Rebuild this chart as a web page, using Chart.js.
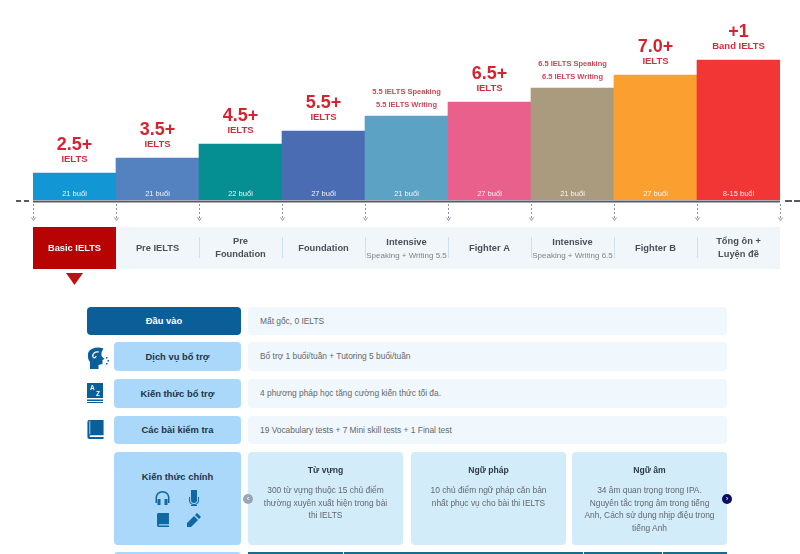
<!DOCTYPE html>
<html>
<head>
<meta charset="utf-8">
<script src="https://cdn.jsdelivr.net/npm/chart.js@4"></script>
<style>
html, body { margin: 0; padding: 0; background: #fff; width: 800px; height: 554px; overflow: hidden; }
body { font-family: "Liberation Sans", Arial, sans-serif; position: relative; }
#courseChart { position: absolute; left: 0; top: 0; }
.box { position: absolute; border-radius: 4px; box-sizing: border-box; }
.head { background: #a9d8fb; color: #1f3347; font-weight: bold; font-size: 9.4px; text-align: center; left: 114px; width: 127px; }
.dark { background: #0b5f98; color: #fff; left: 87px; width: 154px; }
.info { background: #f0f8fd; color: #62676e; font-size: 8.4px; left: 248px; width: 479px; padding-left: 12px; }
.card { background: #d3ecfa; color: #62686f; font-size: 8.4px; line-height: 12.7px; text-align: center; top: 452px; height: 93px; width: 155px; padding: 12px 2px 0; white-space: nowrap; }
.card b { display: block; color: #2e3a44; font-size: 8.6px; margin-bottom: 8px; line-height: 12px; }
.dot { position: absolute; width: 10px; height: 10px; border-radius: 50%; top: 494px; color: #fff; font-size: 8px; line-height: 9px; text-align: center; }
svg { position: absolute; fill: #0f67a3; }
</style>
</head>
<body>
<canvas id="courseChart" width="800" height="554"></canvas>

<div class="box head dark" style="top:307px;height:28px;line-height:28px">Đầu vào</div>
<div class="box info" style="top:307px;height:28px;line-height:28px">Mất gốc, 0 IELTS</div>
<div class="box head" style="top:342px;height:29px;line-height:29px">Dịch vụ bổ trợ</div>
<div class="box info" style="top:342px;height:29px;line-height:29px">Bổ trợ 1 buổi/tuần + Tutoring 5 buổi/tuần</div>
<div class="box head" style="top:379px;height:29px;line-height:29px">Kiến thức bổ trợ</div>
<div class="box info" style="top:379px;height:29px;line-height:29px">4 phương pháp học tăng cường kiến thức tối đa.</div>
<div class="box head" style="top:416px;height:28px;line-height:28px">Các bài kiểm tra</div>
<div class="box info" style="top:416px;height:28px;line-height:28px">19 Vocabulary tests + 7 Mini skill tests + 1 Final test</div>

<div class="box head" style="top:452px;height:93px;padding-top:19px">Kiến thức chính</div>
<div class="box card" style="left:248px"><b>Từ vựng</b>300 từ vựng thuộc 15 chủ điểm<br>thường xuyên xuất hiện trong bài<br>thi IELTS</div>
<div class="box card" style="left:411px"><b>Ngữ pháp</b>10 chủ điểm ngữ pháp căn bản<br>nhất phục vụ cho bài thi IELTS</div>
<div class="box card" style="left:572px"><b>Ngữ âm</b>34 âm quan trọng trong IPA.<br>Nguyên tắc trọng âm trong tiếng<br>Anh, Cách sử dụng nhịp điệu trong<br>tiếng Anh</div>
<div class="dot" style="left:243px;background:#9aa6b8">‹</div>
<div class="dot" style="left:722px;background:#0c0c66">›</div>

<div class="box head" style="top:552px;height:10px"></div>
<div class="box" style="left:248px;top:552px;width:479px;height:10px;border-radius:0;background:#1a6a8c"></div>
<div class="box" style="left:343px;top:552px;width:1px;height:10px;border-radius:0;background:#fff"></div>
<div class="box" style="left:583px;top:552px;width:1px;height:10px;border-radius:0;background:#fff"></div>
<div class="box" style="left:662px;top:552px;width:1px;height:10px;border-radius:0;background:#fff"></div>

<!-- side icons -->
<svg style="left:87px;top:347px;fill:#0b5f98" width="23" height="22" viewBox="0 0 23 22"><path d="M1.500 5C4 1 10-.5 16.500 1.500L14.500 5v4l3 3-2 1v4l-4 1v4H3v-7C.5 12 .5 8 1.500 5z"/><path d="M12 5C8 4 5 7 6 10c1 1.500 3 .5 3-1" fill="none" stroke="#fff" stroke-width="1.200"/><path d="M19 10h1.500v1.500H19zM20.500 13H22v1.500h-1.500zM19 16h1.500v1.500H19z"/></svg>
<svg style="left:87px;top:383px;fill:#0b5f98" width="16" height="20" viewBox="0 0 16 20"><path d="M0 0h16v15H0z"/><path d="M0 16.500h16V18H0zM0 19h16v1H0z"/><text x="3" y="7" font-size="6.500" font-weight="bold" fill="#fff" font-family="Liberation Sans">A</text><text x="9" y="13" font-size="6.500" font-weight="bold" fill="#fff" font-family="Liberation Sans">Z</text></svg>
<svg style="left:87px;top:420px;fill:#0b5f98" width="17" height="19" viewBox="0 0 17 20"><path d="M2 0h15v16H3c-1 0-1 2 0 2h14v2H2c-1 0-2-1-2-2V2c0-1 1-2 2-2z"/><path d="M2 1h1v14H2z" fill="#a9d8fb"/></svg>
<!-- skill icons -->
<svg style="left:155px;top:491px" width="15" height="14" viewBox="0 0 14 14"><path d="M7 0C3 0 0 3 0 7v5h1.500V7a5.500 5.500 0 0 1 11 0v5H14V7c0-4-3-7-7-7z"/><path d="M2 8h3v6H2zM9 8h3v6H9z"/></svg>
<svg style="left:188px;top:490px" width="12" height="16" viewBox="0 0 12 16"><path d="M3 0h6v10a3 3 0 0 1-6 0z"/><path d="M1 7h1v3a4 4 0 0 0 8 0V7h1v3a5 5 0 0 1-4.500 5H9v1H3v-1h2.500A5 5 0 0 1 1 10z"/></svg>
<svg style="left:157px;top:513px" width="12" height="14" viewBox="0 0 17 20"><path d="M2 0h15v16H3c-1 0-1 2 0 2h14v2H2c-1 0-2-1-2-2V2c0-1 1-2 2-2z"/></svg>
<svg style="left:187px;top:513px" width="14" height="14" viewBox="0 0 14 14"><path d="M10 0l4 4-2 2-4-4zM7 3l4 4-7 7H0v-4z"/></svg>

<script>
const categories = ['Basic IELTS', 'Pre IELTS', ['Pre', 'Foundation'], 'Foundation', 'Intensive', 'Fighter A', 'Intensive', 'Fighter B', ['Tổng ôn +', 'Luyện đề']];
const subLabels = ['', '', '', '', 'Speaking + Writing 5.5', '', 'Speaking + Writing 6.5', '', ''];
const levelHeights = [27, 42, 56, 69, 84, 98, 112, 125, 140];
const barColors = ['#1296d4', '#5482c0', '#068f93', '#4a6cb3', '#5ba2c4', '#e9608c', '#aa9b7e', '#fba030', '#f23535'];
const sessions = ['21 buổi', '21 buổi', '22 buổi', '27 buổi', '21 buổi', '27 buổi', '21 buổi', '27 buổi', '8-15 buổi'];
const bigTargets = ['2.5+', '3.5+', '4.5+', '5.5+', '', '6.5+', '', '7.0+', '+1'];
const smallTargets = ['IELTS', 'IELTS', 'IELTS', 'IELTS', '', 'IELTS', '', 'IELTS', 'Band IELTS'];
const skillTargets = [null, null, null, null, ['5.5 IELTS Speaking', '5.5 IELTS Writing'], null, ['6.5 IELTS Speaking', '6.5 IELTS Writing'], null, null];

const FONT = '"Liberation Sans", Arial, sans-serif';

// everything around the bars: labels, axis line, arrows, class strip
const stepPlugin = {
    id: 'stepPlugin',
    afterDatasetsDraw(chart) {
        const ctx = chart.ctx;
        const bars = chart.getDatasetMeta(0).data;
        const base = chart.scales.y.getPixelForValue(0);
        const left = chart.chartArea.left;
        const right = chart.chartArea.right;

        ctx.save();
        ctx.textAlign = 'center';
        ctx.textBaseline = 'alphabetic';

        bars.forEach((bar, i) => {
            ctx.fillStyle = 'rgba(255,255,255,0.92)';
            ctx.font = '7.5px ' + FONT;
            ctx.fillText(sessions[i], bar.x, base - 4.5);

            if (skillTargets[i]) {
                ctx.fillStyle = '#cc4656';
                ctx.font = 'bold 7.5px ' + FONT;
                ctx.fillText(skillTargets[i][0], bar.x, bar.y - 22.5);
                ctx.fillText(skillTargets[i][1], bar.x, bar.y - 9.5);
            } else {
                ctx.fillStyle = '#d8232f';
                ctx.font = 'bold 18px ' + FONT;
                ctx.fillText(bigTargets[i], bar.x, bar.y - 23);
                ctx.fillStyle = '#cf2f3b';
                ctx.font = 'bold 9.5px ' + FONT;
                ctx.fillText(smallTargets[i], bar.x, bar.y - 11);
            }
        });

        // axis line with the dashes on both ends
        ctx.fillStyle = '#565c66';
        ctx.fillRect(left, base + 0.5, right - left, 2);
        [[16, 5], [24, 5], [785, 7], [794, 6]].forEach(d => ctx.fillRect(d[0], base, d[1], 2));

        // strip with the class names
        ctx.fillStyle = '#f1f6fb';
        ctx.fillRect(left, 227, right - left, 42);
        ctx.fillStyle = '#b80303';
        ctx.fillRect(left, 227, bars[0].width, 42);
        ctx.fillStyle = '#b81313';
        ctx.beginPath();
        ctx.moveTo(bars[0].x - 8.5, 273);
        ctx.lineTo(bars[0].x + 8.5, 273);
        ctx.lineTo(bars[0].x, 285);
        ctx.fill();

        // dashed drops with arrow heads
        const edges = bars.map(b => b.x - b.width / 2).concat(right);
        edges.forEach((edge, i) => {
            const x = Math.round(edge) + 0.5;
            ctx.strokeStyle = '#8c929a';
            ctx.lineWidth = 1;
            ctx.setLineDash([2, 2]);
            ctx.beginPath();
            ctx.moveTo(x, 204);
            ctx.lineTo(x, 220);
            ctx.stroke();
            ctx.setLineDash([]);
            ctx.beginPath();
            ctx.moveTo(x - 2, 217.5);
            ctx.lineTo(x, 220.5);
            ctx.lineTo(x + 2, 217.5);
            ctx.stroke();
            if (i > 1 && i < 9) {
                ctx.strokeStyle = '#cfe0ee';
                ctx.beginPath();
                ctx.moveTo(x, 237);
                ctx.lineTo(x, 258);
                ctx.stroke();
            }
        });

        bars.forEach((bar, i) => {
            const name = categories[i];
            ctx.fillStyle = i === 0 ? '#fff' : '#4a5058';
            ctx.font = 'bold 9.3px ' + FONT;
            if (Array.isArray(name)) {
                ctx.fillText(name[0], bar.x, 244);
                ctx.fillText(name[1], bar.x, 257);
            } else if (subLabels[i]) {
                ctx.fillText(name, bar.x, 245);
                ctx.fillStyle = '#7d838a';
                ctx.font = '8px ' + FONT;
                ctx.fillText(subLabels[i], bar.x, 257.5);
            } else {
                ctx.fillText(name, bar.x, 250.5);
            }
        });
        ctx.restore();
    }
};

new Chart(document.getElementById('courseChart').getContext('2d'), {
    type: 'bar',
    data: {
        labels: categories,
        datasets: [{
            data: levelHeights,
            backgroundColor: barColors,
            borderWidth: 0,
            barPercentage: 1,
            categoryPercentage: 1
        }]
    },
    options: {
        responsive: false,
        animation: false,
        devicePixelRatio: 1,
        layout: { padding: { left: 33, right: 20, top: 0, bottom: 354 } },
        plugins: { legend: { display: false }, tooltip: { enabled: false } },
        scales: {
            x: { display: false },
            y: { display: false, min: 0, max: 200 }
        }
    },
    plugins: [stepPlugin]
});
</script>
</body>
</html>
